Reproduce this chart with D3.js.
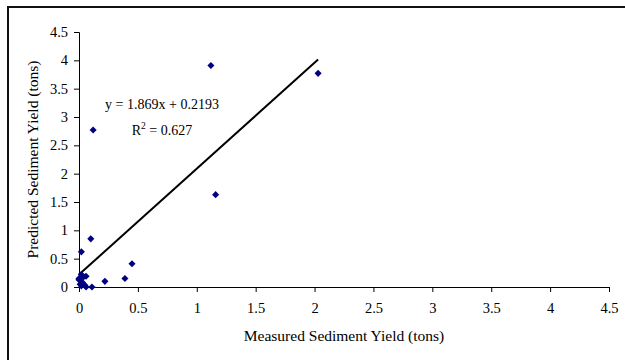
<!DOCTYPE html>
<html>
<head>
<meta charset="utf-8">
<script src="https://cdn.jsdelivr.net/npm/d3@7"></script>
<style>
  body { margin: 0; background: #fff; }
  svg { display: block; }
  text { font-family: "Liberation Serif", "Times New Roman", serif; fill: #000; }
</style>
</head>
<body>
<div id="chart"></div>
<script>
// measured vs predicted sediment yield (tons)
const measured = [2.03, 1.12, 0.12, 1.16, 0.10, 0.02, 0.45, 0.39, 0.22, 0.11, 0.06,
  0.02, 0.00, 0.01, 0.02, 0.04, 0.06, 0.00, 0.03, 0.05, 0.01];
const predicted = [3.77, 3.91, 2.77, 1.63, 0.85, 0.62, 0.41, 0.15, 0.10, 0.00, 0.00,
  0.02, 0.15, 0.12, 0.22, 0.18, 0.19, 0.13, 0.08, 0.03, 0.05];
const ticks = [0, 0.5, 1, 1.5, 2, 2.5, 3, 3.5, 4, 4.5];
const slope = 1.869;
const intercept = 0.2193;
const equationLines = ['y = 1.869x + 0.2193', 'R2 = 0.627'];

const width = 625;
const height = 360;
const margin = { top: 32, right: 16, bottom: 73, left: 79 };

const svg = d3.select('#chart').append('svg')
  .attr('width', width)
  .attr('height', height);

// outer chart frame (runs off the bottom/right)
svg.append('rect')
  .attr('x', 8)
  .attr('y', 7)
  .attr('width', width)
  .attr('height', height)
  .attr('fill', 'none')
  .attr('stroke', '#111')
  .attr('stroke-width', 2);

const x = d3.scaleLinear().domain([0, 4.5]).range([margin.left, width - margin.right]);
const y = d3.scaleLinear().domain([0, 4.5]).range([height - margin.bottom, margin.top]);

const xAxis = svg.append('g')
  .attr('transform', `translate(0,${y(0)})`)
  .call(d3.axisBottom(x).tickValues(ticks).tickSize(5).tickPadding(11)
    .tickFormat(d3.format('')));
const yAxis = svg.append('g')
  .attr('transform', `translate(${x(0)},0)`)
  .call(d3.axisLeft(y).tickValues(ticks).tickSize(5).tickPadding(6)
    .tickFormat(d3.format('')));

[xAxis, yAxis].forEach(a => {
  a.select('.domain').attr('stroke', '#000');
  a.selectAll('.tick line').attr('stroke', '#000');
  a.selectAll('.tick text')
    .style('font-family', '"Liberation Serif", serif')
    .style('font-size', '14.5px')
    .attr('fill', '#000');
});

// trend line over the data range
const xMin = d3.min(measured);
const xMax = d3.max(measured);
svg.append('line')
  .attr('x1', x(xMin))
  .attr('y1', y(slope * xMin + intercept))
  .attr('x2', x(xMax))
  .attr('y2', y(slope * xMax + intercept))
  .attr('stroke', '#000')
  .attr('stroke-width', 2);

const points = measured.map((m, i) => ({ m, p: predicted[i] }));
svg.append('g')
  .selectAll('path')
  .data(points)
  .enter().append('path')
  .attr('d', d3.symbol().type(d3.symbolDiamond2).size(32))
  .attr('transform', d => `translate(${x(d.m)},${y(d.p)})`)
  .attr('fill', '#000080');

// equation label
const eq = svg.append('g').attr('font-size', 14).attr('text-anchor', 'middle');
eq.append('text')
  .attr('x', 162)
  .attr('y', 109)
  .text(equationLines[0]);
const r2 = eq.append('text')
  .attr('x', 162)
  .attr('y', 135);
r2.append('tspan').text('R');
r2.append('tspan').attr('dy', -6).attr('font-size', 9.5).text('2');
r2.append('tspan').attr('dy', 6).text(' = 0.627');

svg.append('text')
  .attr('x', (x(0) + x(4.5)) / 2)
  .attr('y', 341)
  .attr('text-anchor', 'middle')
  .attr('font-size', 15.5)
  .text('Measured Sediment Yield (tons)');

svg.append('text')
  .attr('transform', `translate(38,${(y(0) + y(4.5)) / 2}) rotate(-90)`)
  .attr('text-anchor', 'middle')
  .attr('font-size', 15.5)
  .text('Predicted Sediment Yield (tons)');
</script>
</body>
</html>
